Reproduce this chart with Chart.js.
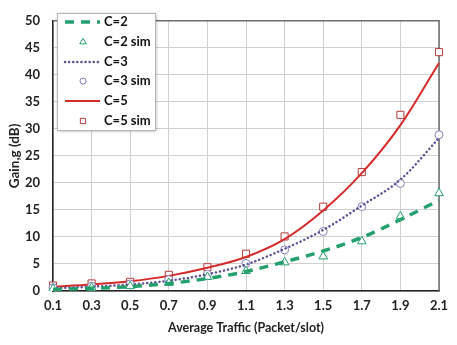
<!DOCTYPE html>
<html>
<head>
<meta charset="utf-8">
<script src="https://cdn.jsdelivr.net/npm/chart.js@4"></script>
<style>
  html, body { margin: 0; padding: 0; background: #fff; }
  #wrap { width: 457px; height: 345px; position: relative; }
</style>
</head>
<body>
<div id="wrap"><canvas id="myChart" width="457" height="345"></canvas></div>
<script>
// traffic values on the x axis
var traffic = ['0.1', '0.3', '0.5', '0.7', '0.9', '1.1', '1.3', '1.5', '1.7', '1.9', '2.1'];

// analytical curves
var c2 = [0.3, 0.5, 0.8, 1.4, 2.3, 3.6, 5.4, 7.4, 9.9, 13.2, 16.8];
var c3 = [0.5, 0.8, 1.2, 1.9, 3.1, 4.9, 7.8, 11.3, 15.8, 20.6, 28.3];
var c5 = [0.8, 1.2, 1.8, 2.8, 4.3, 6.3, 9.6, 14.9, 21.8, 30.7, 42.2];

// simulation points
var c2sim = [0.4, 0.6, 0.9, 1.5, 2.6, 3.7, 5.3, 6.4, 9.2, 13.8, 18.1];
var c3sim = [0.6, 0.9, 1.3, 2.1, 3.1, 5.1, 7.6, 11.0, 15.6, 19.9, 28.9];
var c5sim = [1.0, 1.4, 1.7, 3.0, 4.4, 6.9, 10.1, 15.6, 22.0, 32.6, 44.2];

var yTicks = [0, 5, 10, 15, 20, 25, 30, 35, 40, 45, 50];

var green = '#23a06c';
var purple = '#5e5196';
var red = '#d42a2a';
var fnt = 'Lato, "Open Sans", sans-serif';

// legend box drawn inside the plot, plus the grey top/right frame
var boxPlugin = {
  id: 'boxPlugin',
  beforeDatasetsDraw: function(chart) {
    var ctx = chart.ctx, a = chart.chartArea;
    ctx.save();
    ctx.strokeStyle = '#6b6b6b';
    ctx.lineWidth = 1.5;
    ctx.beginPath();
    ctx.moveTo(a.left, a.top);
    ctx.lineTo(a.right, a.top);
    ctx.lineTo(a.right, a.bottom);
    ctx.stroke();
    ctx.restore();
  },
  afterDraw: function(chart) {
    var ctx = chart.ctx;
    var x0 = 57, y0 = 13, w = 98, h = 117;
    ctx.save();
    ctx.shadowColor = 'rgba(0,0,0,0.35)';
    ctx.shadowBlur = 3;
    ctx.shadowOffsetX = 1;
    ctx.shadowOffsetY = 1;
    ctx.fillStyle = '#fff';
    ctx.fillRect(x0, y0, w, h);
    ctx.restore();
    ctx.save();
    ctx.strokeStyle = '#b5b5b5';
    ctx.lineWidth = 1;
    ctx.strokeRect(x0 + 0.5, y0 + 0.5, w, h);
    var rows = [22, 42, 62, 81, 101, 121];
    chart.data.datasets.forEach(function(ds, i) {
      var y = rows[i];
      if (ds.showLine !== false) {
        ctx.save();
        ctx.strokeStyle = ds.borderColor;
        ctx.lineWidth = ds.borderWidth;
        ctx.lineCap = ds.borderCapStyle || 'butt';
        ctx.setLineDash(ds.borderDash || []);
        ctx.beginPath();
        ctx.moveTo(65, y);
        ctx.lineTo(100, y);
        ctx.stroke();
        ctx.restore();
      } else {
        ctx.save();
        ctx.strokeStyle = ds.pointBorderColor;
        ctx.fillStyle = '#fff';
        ctx.lineWidth = 1;
        Chart.helpers.drawPoint(ctx, {
          pointStyle: ds.pointStyle,
          radius: ds.pointRadius * 0.75,
          borderWidth: 1
        }, 83, y);
        ctx.restore();
      }
      ctx.fillStyle = '#111';
      ctx.font = 'bold 13px ' + fnt;
      ctx.textBaseline = 'middle';
      ctx.fillText(ds.label, 104, y);
    });
    ctx.restore();
  }
};

function lineSet(label, data, color, width, dash, cap) {
  return {
    label: label,
    data: data,
    borderColor: color,
    borderWidth: width,
    borderDash: dash,
    borderCapStyle: cap,
    pointRadius: 0,
    fill: false,
    cubicInterpolationMode: 'monotone'
  };
}

function simSet(label, data, color, style, r) {
  return {
    label: label,
    data: data,
    showLine: false,
    pointStyle: style,
    pointRadius: r,
    pointBorderColor: color,
    pointBackgroundColor: '#fff',
    pointBorderWidth: 1
  };
}

var ctx = document.getElementById('myChart').getContext('2d');
new Chart(ctx, {
  type: 'line',
  data: {
    labels: traffic,
    datasets: [
      lineSet('C=2', c2, green, 3.5, [9, 7], 'butt'),
      simSet('C=2 sim', c2sim, green, 'triangle', 5),
      lineSet('C=3', c3, purple, 2.5, [0.1, 4], 'round'),
      simSet('C=3 sim', c3sim, '#8a7fb8', 'circle', 4),
      lineSet('C=5', c5, red, 2, [], 'butt'),
      simSet('C=5 sim', c5sim, '#b33a3a', 'rect', 5)
    ]
  },
  options: {
    responsive: false,
    animation: false,
    layout: { padding: { top: 9, right: 18, left: 0, bottom: 0 } },
    plugins: {
      legend: { display: false },
      tooltip: { enabled: false }
    },
    scales: {
      x: {
        type: 'category',
        offset: false,
        grid: { color: '#cfcfcf', drawTicks: false },
        border: { color: '#222', width: 1.5 },
        ticks: {
          padding: 7,
          color: '#222',
          font: { family: fnt, size: 13, weight: 'bold' },
          maxRotation: 0
        },
        title: {
          display: true,
          text: 'Average Traffic (Packet/slot)',
          color: '#222',
          font: { family: fnt, size: 12.5, weight: 'bold' },
          padding: { top: 4, bottom: 10 }
        },
        afterFit: function(s) { s.height = 54; }
      },
      y: {
        min: 0,
        max: 50,
        afterBuildTicks: function(s) {
          s.ticks = yTicks.map(function(v) { return { value: v }; });
        },
        grid: { color: '#cfcfcf', drawTicks: false },
        border: { color: '#222', width: 1.5 },
        ticks: {
          padding: 13,
          color: '#222',
          font: { family: fnt, size: 13, weight: 'bold' }
        },
        title: {
          display: true,
          text: 'Gain,g (dB)',
          color: '#222',
          font: { family: fnt, size: 13.5, weight: 'bold' },
          padding: { top: 7, bottom: 4 }
        },
        afterFit: function(s) { s.width = 53; }
      }
    }
  },
  plugins: [boxPlugin]
});
</script>
</body>
</html>
